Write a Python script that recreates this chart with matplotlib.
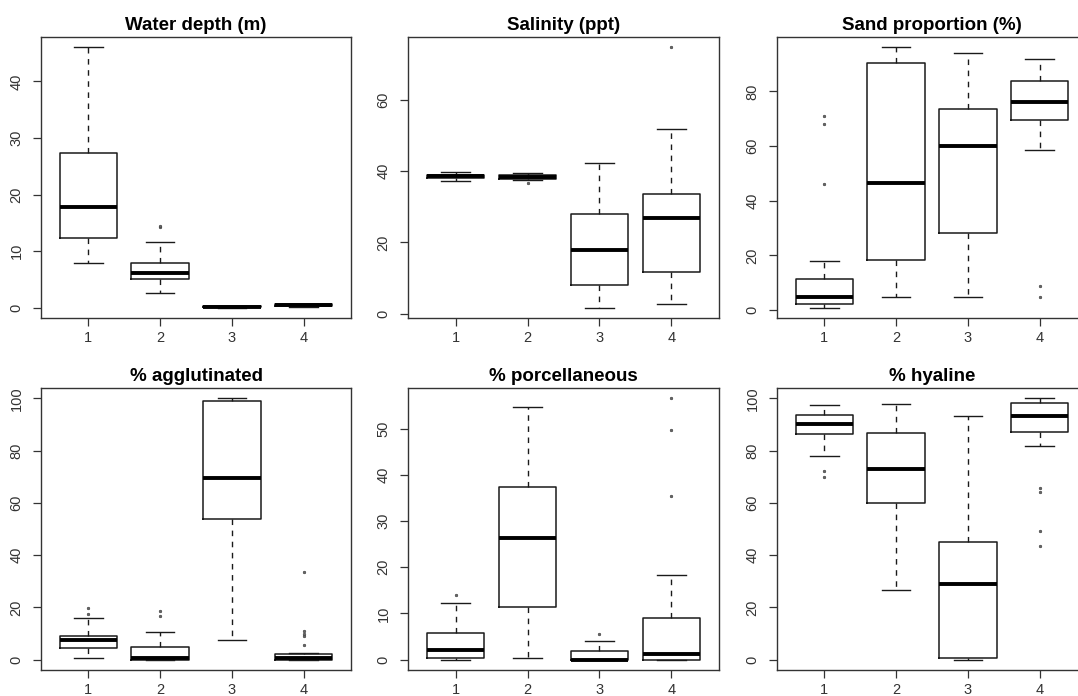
import matplotlib
matplotlib.use("Agg")
import matplotlib.pyplot as plt

plt.rcParams['font.family'] = ['Liberation Sans', 'DejaVu Sans']

groups = [1, 2, 3, 4]

titles = ["Water depth (m)", "Salinity (ppt)", "Sand proportion (%)",
          "% agglutinated", "% porcellaneous", "% hyaline"]

# each box: (whislo, q1, median, q3, whishi)
depth_stats = [(8.0, 12.4, 17.9, 27.4, 46.0),
               (2.6, 5.1, 6.1, 8.0, 11.6),
               (0.05, 0.1, 0.15, 0.25, 0.35),
               (0.2, 0.3, 0.45, 0.6, 0.75)]
depth_out = [[], [14.2, 14.5], [], []]

sal_stats = [(37.3, 38.1, 38.6, 39.0, 39.7),
             (37.5, 37.9, 38.4, 38.8, 39.4),
             (1.7, 8.1, 17.9, 27.9, 42.4),
             (2.6, 11.6, 26.7, 33.6, 51.9)]
sal_out = [[], [36.7], [], [74.7]]

sand_stats = [(0.9, 2.1, 4.9, 11.4, 18.0),
              (4.9, 18.4, 46.6, 90.3, 96.1),
              (4.9, 28.2, 60.0, 73.5, 94.1),
              (58.7, 69.4, 76.0, 83.9, 91.9)]
sand_out = [[46.0, 68.0, 70.9], [], [], [4.9, 8.7]]

agg_stats = [(0.6, 4.5, 7.4, 9.2, 16.1),
             (0.0, 0.0, 0.6, 5.0, 10.6),
             (7.3, 53.8, 69.4, 99.1, 100.0),
             (0.0, 0.0, 0.6, 2.2, 2.7)]
agg_out = [[17.6, 19.9], [16.8, 18.6], [], [5.6, 9.1, 9.8, 11.0, 33.7]]

por_stats = [(0.0, 0.4, 2.1, 5.8, 12.2),
             (0.4, 11.3, 26.4, 37.4, 54.8),
             (0.0, 0.0, 0.0, 1.8, 4.1),
             (0.0, 0.0, 1.1, 9.1, 18.4)]
por_out = [[13.9], [], [5.6], [35.4, 49.8, 56.6]]

hya_stats = [(78.1, 86.5, 90.2, 93.5, 97.4),
             (26.8, 59.9, 72.9, 86.9, 97.8),
             (0.0, 0.5, 29.0, 45.2, 93.1),
             (81.8, 87.2, 93.1, 98.1, 100.0)]
hya_out = [[69.9, 72.3], [], [], [43.5, 49.1, 64.0, 65.6]]

yticks = [[0, 10, 20, 30, 40],
          [0, 20, 40, 60],
          [0, 20, 40, 60, 80],
          [0, 20, 40, 60, 80, 100],
          [0, 10, 20, 30, 40, 50],
          [0, 20, 40, 60, 80, 100]]

all_stats = [depth_stats, sal_stats, sand_stats, agg_stats, por_stats, hya_stats]
all_out = [depth_out, sal_out, sand_out, agg_out, por_out, hya_out]

W, H = 1078, 696
fig = plt.figure(figsize=(W / 100, H / 100), dpi=100)

cols = [(41, 351), (408, 719), (777, 1087)]
rows = [(37, 318), (388, 670)]

line_c = '#1a1a1a'
for i in range(6):
    r, c = divmod(i, 3)
    x0, x1 = cols[c]
    y0, y1 = rows[r]
    ax = fig.add_axes([x0 / W, 1 - y1 / H, (x1 - x0) / W, (y1 - y0) / H])
    stats = []
    for g, s, o in zip(groups, all_stats[i], all_out[i]):
        stats.append(dict(whislo=s[0], q1=s[1], med=s[2], q3=s[3], whishi=s[4],
                          fliers=o, label=str(g)))
    ax.bxp(stats, positions=groups, widths=0.8, capwidths=0.4, showfliers=True,
           boxprops=dict(color=line_c, linewidth=1.1),
           medianprops=dict(color='black', linewidth=2.8, solid_capstyle='butt'),
           whiskerprops=dict(color=line_c, linewidth=1.0, linestyle=(0, (4, 4))),
           capprops=dict(color=line_c, linewidth=1.0),
           flierprops=dict(marker='o', markersize=1.8, markerfacecolor='#666666',
                           markeredgecolor='#444444', markeredgewidth=0.5,
                           linestyle='none'))
    # R-style 4% extension of data range
    vals = [v for s in all_stats[i] for v in s] + [v for o in all_out[i] for v in o]
    lo, hi = min(vals), max(vals)
    ext = 0.04 * (hi - lo)
    ax.set_ylim(lo - ext, hi + ext)
    ax.set_xlim(0.34, 4.66)
    ax.set_xticks(groups)
    ax.set_xticklabels([str(g) for g in groups])
    ax.set_yticks(yticks[i])
    ax.set_yticklabels([str(t) for t in yticks[i]])
    ax.tick_params(direction='out', length=5.5, width=0.9, color='#333333',
                   labelsize=10.5, labelcolor='#333333')
    ax.tick_params(axis='x', pad=3.5)
    ax.tick_params(axis='y', pad=7)
    plt.setp(ax.get_yticklabels(), rotation=90, va='center')
    for sp in ax.spines.values():
        sp.set_color('#333333')
        sp.set_linewidth(1.0)
    ax.set_title(titles[i], fontsize=13.5, fontweight='bold', pad=5)

fig.savefig('out.png', dpi=100)
